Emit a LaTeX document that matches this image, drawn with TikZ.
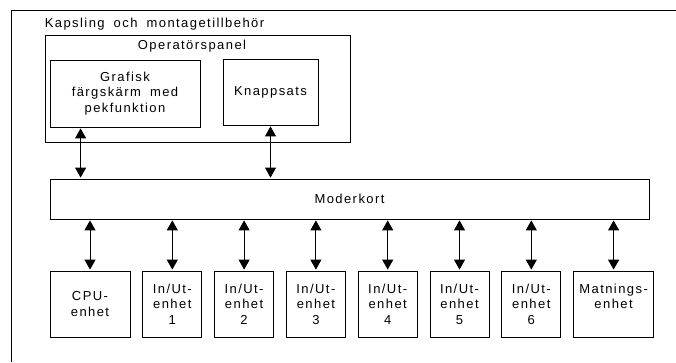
\documentclass[tikz,border=0pt]{standalone}
\usepackage{fontspec}
\setmainfont{Liberation Sans}[LetterSpace=11, WordSpace=1.8]
\usetikzlibrary{arrows.meta, positioning}

\tikzset{
  txt/.style={inner sep=0pt, align=center, font=\fontsize{13}{15.5}\selectfont},
  box/.style={txt, draw, line width=0.8pt},
  unit/.style={box, minimum width=59pt, minimum height=66pt},
  link/.style={{Triangle[width=11pt,length=10pt]}-{Triangle[width=11pt,length=10pt]}, line width=0.9pt, shorten <=1pt, shorten >=1pt},
}

\begin{document}
\begin{tikzpicture}[x=1pt, y=-1pt]
    \useasboundingbox (0,0) rectangle (676,362);

    % Kapsling
    \draw[line width=0.8pt] (676,10) -- (11,10) -- (11,362);
    \node[txt] (kapsling) at (154.5,24) {Kapsling och montagetillbehör};

    % Operatorspanel
    \node[box, minimum width=305pt, minimum height=107pt] (panel) at (197.5,88.5) {};
    \node[txt] (paneltitle) at (192,46) {Operatörspanel};
    \node[box, minimum width=150pt, minimum height=67pt] (skarm) at (125,93.5)
      {Grafisk\\färgskärm med\\pekfunktion};
    \node[box, minimum width=95pt, minimum height=66pt] (knapp) at (270.5,92) {Knappsats};

    % Moderkort
    \node[box, minimum width=599pt, minimum height=40pt] (moder) at (349.5,199) {Moderkort};

    % Enheter
    \node[unit, minimum width=80pt] (cpu) at (90,304) {CPU-\\enhet};
    \node[unit, right=12pt of cpu] (io1) {In/Ut-\\enhet\\1};
    \foreach \i [evaluate=\i as \j using int(\i-1)] in {2,...,6}
      \node[unit, right=12pt of io\j] (io\i) {In/Ut-\\enhet\\\i};
    \node[unit, minimum width=80pt, right=12pt of io6] (matn) {Matnings-\\enhet\\\mbox{}};

    % Links
    \draw[link] ([xshift=31pt]skarm.south west) -- ([xshift=31pt]skarm.south west |- moder.north);
    \draw[link] (knapp.south) -- (knapp.south |- moder.north);
    \foreach \n in {cpu,io1,io2,io3,io4,io5,io6,matn}
      \draw[link] (moder.south -| \n.north) -- (\n.north);
\end{tikzpicture}
\end{document}
